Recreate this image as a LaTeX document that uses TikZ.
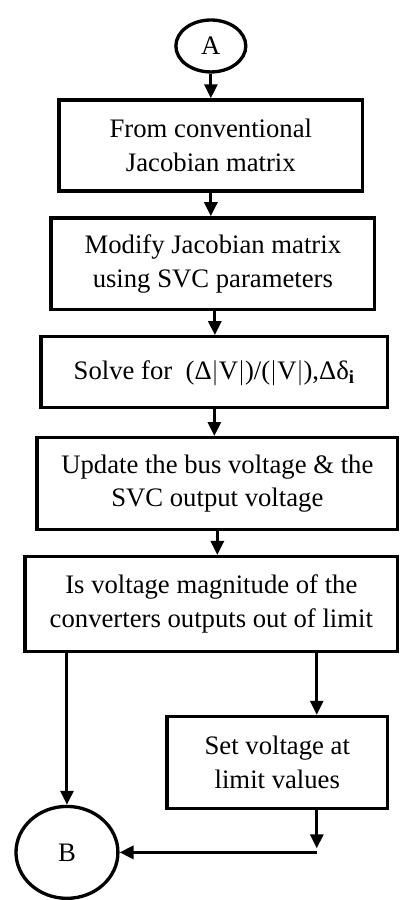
\documentclass[tikz,border=0pt]{standalone}
\usepackage{fontspec}
\setmainfont{Liberation Serif}
\usepackage{tikz}
\usetikzlibrary{arrows.meta,shapes.geometric}

\begin{document}
\begin{tikzpicture}[
  box/.style={draw, line width=1.9pt, align=center, inner sep=0pt},
  conn/.style={draw, ellipse, line width=1.9pt, inner sep=0pt},
  flow/.style={line width=1.7pt},
  >={Triangle[width=0.26cm,length=0.28cm]},
  font=\fontsize{15.2}{19}\selectfont
]
\fill[white] (0,0) rectangle (8,-18);
\node[conn, minimum width=1.4cm, minimum height=1.04cm] (A) at (4.22,-0.92) {A};
\node[box, minimum width=6.08cm, minimum height=1.82cm] (form) at (4.22,-2.91) {From conventional\\Jacobian matrix};
\node[box, minimum width=6.48cm, minimum height=1.84cm] (modify) at (4.26,-5.28) {Modify Jacobian matrix\\using SVC parameters};
\node[box, minimum width=6.94cm, minimum height=1.42cm] (solve) at (4.29,-7.45) {Solve for \ (Δ$\Big|$V$\Big|$)/($\Big|$V$\Big|$),Δδ\textsubscript{\textbf{i}}};
\node[box, minimum width=7.22cm, minimum height=1.84cm] (update) at (4.35,-9.68) {Update the bus voltage \& the\\SVC output voltage};
\node[box, minimum width=7.46cm, minimum height=1.9cm] (check) at (4.23,-12.09) {Is voltage magnitude of the\\converters outputs out of limit};
\node[box, minimum width=4.42cm, minimum height=1.84cm] (limit) at (5.55,-15.26) {Set voltage at\\limit values};
\node[conn, minimum width=2.04cm, minimum height=1.84cm] (B) at (1.34,-17.06) {B};
\coordinate (j) at (6.34,-17.06);

\path [->, flow] (A.south) edge (A.south |- form.north)
           (form.south) edge (form.south |- modify.north)
           ([xshift=0.04cm]modify.south) edge ([xshift=0.04cm]modify.south |- solve.north)
           (solve.south) edge (solve.south |- update.north)
           (update.south) edge (update.south |- check.north)
           (check.south -| B.north) edge (B.north)
           (check.south -| j) edge (limit.north -| j)
           (limit.south -| j) edge ([yshift=0.08cm]j)
           (j) edge (B.east)
           ;
\end{tikzpicture}
\end{document}
